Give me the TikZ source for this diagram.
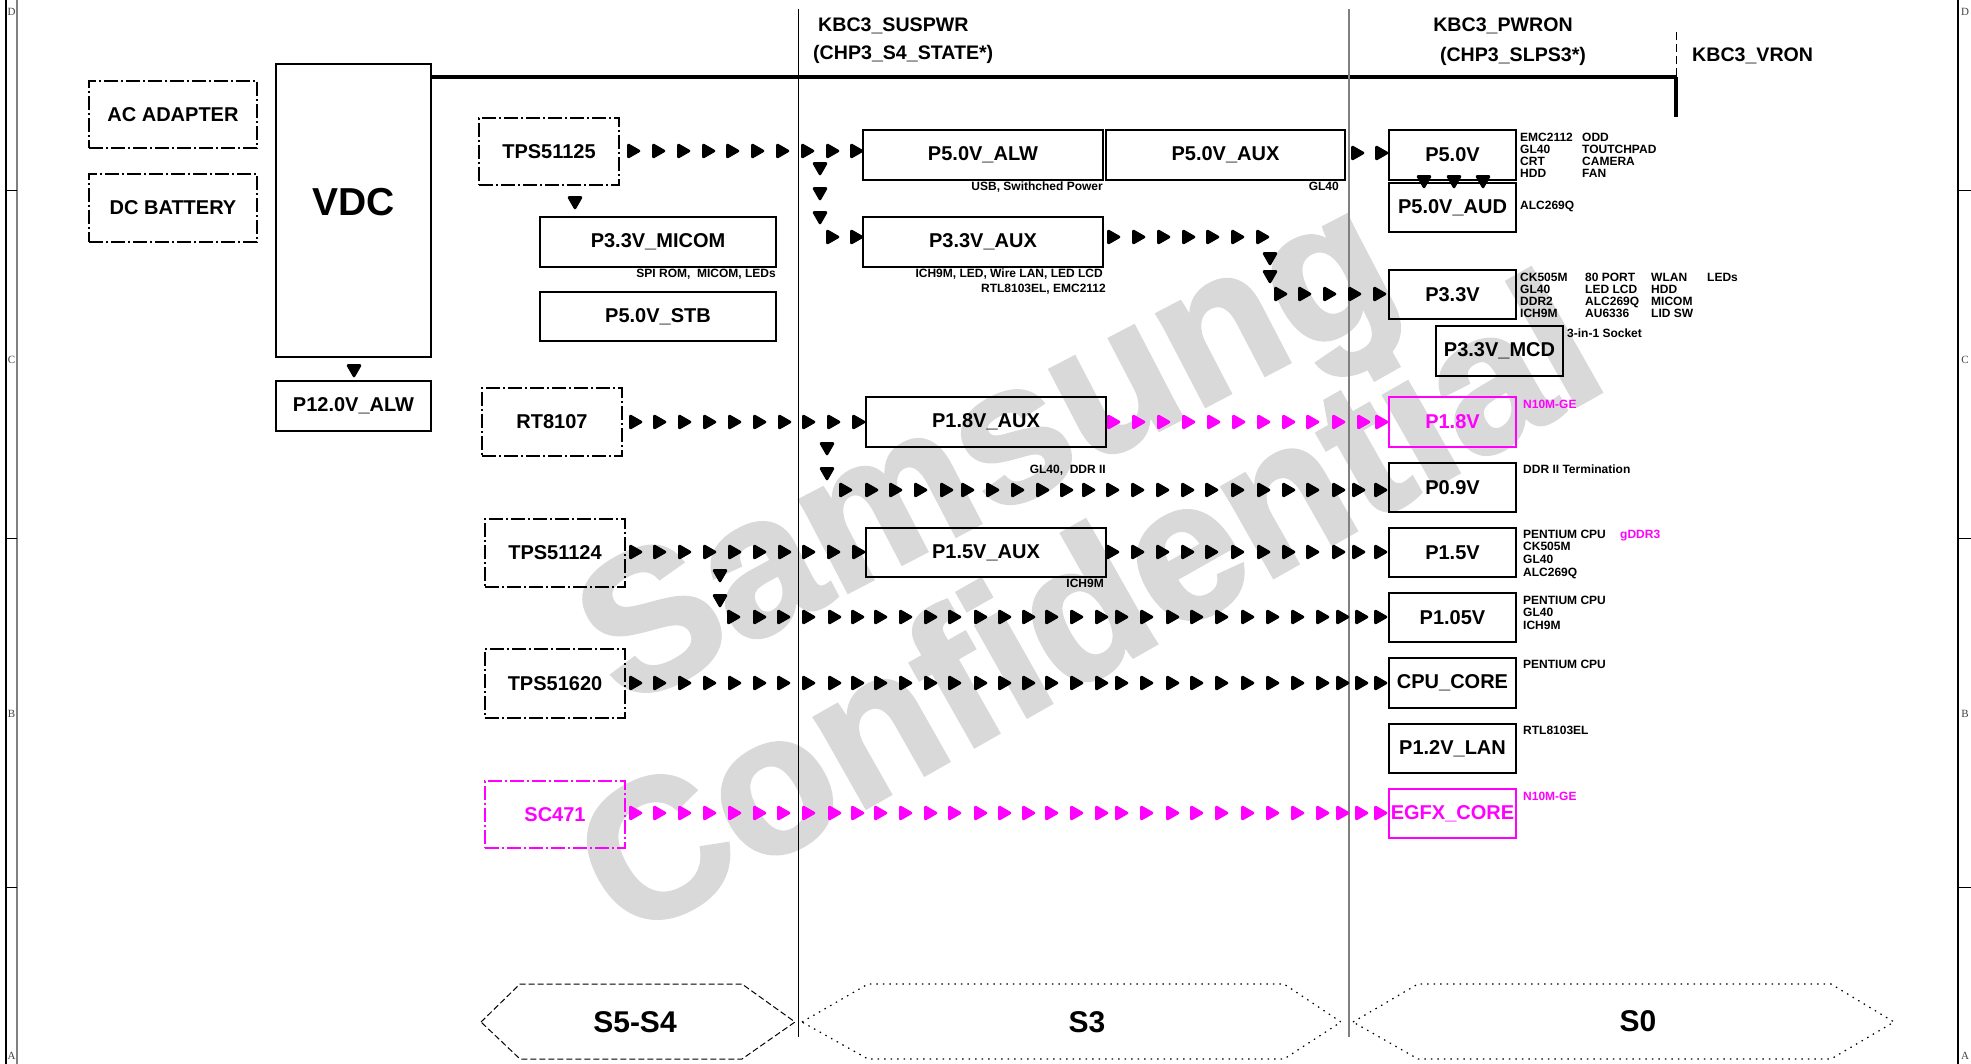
\documentclass[tikz,border=0pt]{standalone}
\usepackage{fontspec}
\setmainfont{Liberation Sans}
\newfontfamily\bfont{Liberation Serif}
\newfontfamily\wmfont{Liberation Sans}[FakeBold=2]
\definecolor{wm}{RGB}{217,217,217}
\definecolor{mag}{RGB}{255,0,255}
\definecolor{gl}{RGB}{128,128,128}
\tikzset{
  pbox/.style={draw, line width=1.3pt, inner sep=0pt, font=\fontsize{20}{22}\selectfont\bfseries},
  dbox/.style={pbox, line width=1.1pt, dash pattern=on 14pt off 3pt on 2pt off 3pt},
  note/.style={inner sep=0pt, font=\fontsize{12}{13}\selectfont\bfseries},
  hdr/.style={inner sep=0pt, font=\fontsize{19.6}{21}\selectfont\bfseries},
  stlbl/.style={inner sep=0pt, font=\fontsize{30}{32}\selectfont\bfseries},
  arr/.style={line width=2.6pt, line join=round, fill=white},
  brd/.style={inner sep=0pt, font=\bfont\fontsize{11}{11}\selectfont, text=black!75},
  wmark/.style={anchor=base, inner sep=0pt, text=wm, font=\wmfont\fontsize{196}{196}\selectfont\bfseries},
}
\newcommand\rrow[3][black]{\foreach \xx in {#2}{\draw[arr,#1] (\xx,#3) ++(-4.5,-6) -- ++(10.5,6) -- ++(-10.5,6) -- cycle;}}
\newcommand\drow[3][black]{\foreach \yy in {#3}{\draw[arr,#1] (#2,\yy) ++(-6,-4.5) -- ++(6,10.5) -- ++(6,-10.5) -- cycle;}}
\begin{document}
\begin{tikzpicture}[x=1pt,y=-1pt]
\useasboundingbox (0,0) rectangle (1971,1064);
% watermark
\node[wmark, rotate=27.5] (wm1) at (1015,505) {Samsung};
\node[wmark, rotate=29.5] (wm2) at (1120,664) {Confidential};
% frame
\draw[line width=2pt] (6,0) -- (6,1064);
\draw[gl, line width=1.5pt] (17,0) -- (17,1064);
\draw[line width=1.5pt] (1958,0) -- (1958,1064);
\foreach \yy in {191,538,887}{
  \draw[line width=1pt] (6,\yy) -- (17,\yy);
  \draw[line width=1pt] (1958,\yy) -- (1971,\yy);
}
\foreach \l/\yy [count=\i] in {D/12,C/360,B/714,A/1056}{
  \node[brd] (bl\i) at (11.5,\yy) {\l};
  \node[brd] (br\i) at (1965,\yy) {\l};
}
% boxes
\node[dbox, minimum width=168pt, minimum height=67pt] (ac) at (173,114.5) {AC ADAPTER};
\node[dbox, minimum width=168pt, minimum height=68pt] (dc) at (173,208) {DC BATTERY};
\node[pbox, minimum width=155pt, minimum height=293pt] (vdc) at (353.5,210.5) {};
\node[inner sep=0pt, font=\fontsize{39}{40}\selectfont\bfseries] (vdct) at (353.5,202) {VDC};
\node[pbox, minimum width=155pt, minimum height=50pt] (p12) at (353.5,406) {P12.0V\_ALW};
\node[dbox, minimum width=140pt, minimum height=67pt] (t25) at (549,151.5) {TPS51125};
\node[pbox, minimum width=236pt, minimum height=50pt] (micom) at (658,242) {P3.3V\_MICOM};
\node[pbox, minimum width=236pt, minimum height=49pt] (stb) at (658,316.5) {P5.0V\_STB};
\node[pbox, minimum width=240pt, minimum height=50pt] (p5alw) at (983,155) {P5.0V\_ALW};
\node[pbox, minimum width=239pt, minimum height=50pt] (p5aux) at (1225.5,155) {P5.0V\_AUX};
\node[pbox, minimum width=240pt, minimum height=50pt] (p33aux) at (983,242) {P3.3V\_AUX};
\node[pbox, minimum width=127pt, minimum height=50pt] (p5v) at (1452.5,155) {P5.0V};
\node[pbox, minimum width=127pt, minimum height=49pt] (p5aud) at (1452.5,207.5) {P5.0V\_AUD};
\node[pbox, minimum width=127pt, minimum height=49pt] (p33v) at (1452.5,294.5) {P3.3V};
\node[pbox, minimum width=127pt, minimum height=50pt] (mcd) at (1499.5,351) {P3.3V\_MCD};
\node[dbox, minimum width=140pt, minimum height=68pt] (rt) at (552,422) {RT8107};
\node[pbox, minimum width=240pt, minimum height=50pt] (p18aux) at (986,422) {P1.8V\_AUX};
\node[pbox, mag, minimum width=127pt, minimum height=50pt] (p18) at (1452.5,422) {P1.8V};
\node[pbox, minimum width=127pt, minimum height=49pt] (p09) at (1452.5,487.5) {P0.9V};
\node[dbox, minimum width=140pt, minimum height=68pt] (t24) at (555,553) {TPS51124};
\node[pbox, minimum width=240pt, minimum height=49pt] (p15aux) at (986,552.5) {P1.5V\_AUX};
\node[pbox, minimum width=127pt, minimum height=49pt] (p15) at (1452.5,552.5) {P1.5V};
\node[pbox, minimum width=127pt, minimum height=49pt] (p105) at (1452.5,617.5) {P1.05V};
\node[dbox, minimum width=140pt, minimum height=69pt] (t620) at (555,683.5) {TPS51620};
\node[pbox, minimum width=127pt, minimum height=50pt] (core) at (1452.5,683) {CPU\_CORE};
\node[pbox, minimum width=127pt, minimum height=49pt] (lan) at (1452.5,748.5) {P1.2V\_LAN};
\node[dbox, mag, minimum width=140pt, minimum height=67pt] (sc) at (555,814.5) {SC471};
\node[pbox, mag, minimum width=127pt, minimum height=49pt] (egfx) at (1452.5,813.5) {EGFX\_CORE};
% rails and state lines
\coordinate (busL) at (vdc.east |- 0,77);
\coordinate (busR) at (1677,77);
\draw[line width=4pt] (busL) -- (busR);
\coordinate (s3t) at (798,9); \coordinate (s3b) at (798,1037);
\draw[line width=1pt] (s3t) -- (s3b);
\coordinate (s0t) at (1349,9); \coordinate (s0b) at (1349,1037);
\draw[gl, line width=2pt] (s0t) -- (s0b);
\coordinate (vrt) at (1676,32); \coordinate (vrm) at (1676,77); \coordinate (vrb) at (1676,117);
\draw[line width=1pt, dash pattern=on 8pt off 4pt] (vrt) -- (vrm);
\draw[line width=3.5pt] (vrm) -- (vrb);
% header labels
\node[hdr, anchor=base west] (sus) at (818,31.8) {KBC3\_SUSPWR};
\node[hdr, anchor=base west] (s4) at (813,59.8) {(CHP3\_S4\_STATE*)};
\node[hdr, anchor=base] (pwron) at (1503,31.8) {KBC3\_PWRON};
\node[hdr, anchor=base] (slps) at (1513,61.8) {(CHP3\_SLPS3*)};
\node[hdr, anchor=base west] (vron) at (1692,61.8) {KBC3\_VRON};
% arrow chains
\drow{354}{370}
\drow{575}{202}
\rrow{633,658,683,708,732,757,782,807,832,856}{151}
\drow{820}{168,193,217}
\rrow{832,856}{237}
\rrow{1113,1138,1163,1188,1212,1237,1262}{237}
\drow{1270}{258,276}
\rrow{1280,1304,1329,1354,1379}{294}
\rrow{1357,1381}{153}
\drow{1424}{181}
\drow{1454}{181}
\drow{1483}{181}
\rrow{635,659,684,709,734,759,784,808,833,858}{422}
\rrow[mag]{1113,1138,1163,1188,1213,1238,1263,1288,1312,1338,1363,1381}{422}
\drow{827}{448,473}
\rrow{845,871,895,920,946,967,992,1017,1042,1066,1088,1112,1137,1162,1187,1211,1237,1263,1288,1312,1338,1358,1380}{490}
\rrow{635,659,684,709,734,759,784,808,833,858}{552}
\rrow{1112,1137,1162,1187,1211,1237,1263,1288,1312,1338,1358,1380}{552}
\drow{720}{575,600}
\rrow{733,759,783,808,834,857,880,905,930,954,980,1004,1028,1051,1076,1101,1121,1146,1172,1196,1221,1247,1272,1297,1322,1342,1361,1380}{617}
\rrow{635,659,684,709,734,759,783,808,834,857,880,905,930,954,980,1004,1028,1051,1076,1101,1121,1146,1172,1196,1221,1247,1272,1297,1322,1342,1361,1380}{683}
\rrow[mag]{635,659,684,709,734,759,783,808,834,857,880,905,930,954,980,1004,1028,1051,1076,1101,1121,1146,1172,1196,1221,1247,1272,1297,1322,1342,1361,1380}{813}
% left-side notes
\node[note, anchor=base east] (nmicom) at (776,277.3) {SPI ROM,~~MICOM, LEDs};
\node[note, anchor=base east] (nalw) at (1103,190.3) {USB, Swithched Power};
\node[note, anchor=base east] (naux) at (1339,190.3) {GL40};
\node[note, anchor=base east] (n33a) at (1103,277.3) {ICH9M, LED, Wire LAN, LED LCD};
\node[note, anchor=base east] (n33b) at (1106,292.3) {RTL8103EL, EMC2112};
\node[note, anchor=base east] (n18) at (1106,473.3) {GL40,~~DDR II};
\node[note, anchor=base east] (n15) at (1104,587.3) {ICH9M};
% right-side notes
\foreach \t [count=\i] in {EMC2112,GL40,CRT,HDD}
  \node[note, anchor=base west] (n5a\i) at (1520,129.3+12*\i) {\t};
\foreach \t [count=\i] in {ODD,TOUTCHPAD,CAMERA,FAN}
  \node[note, anchor=base west] (n5b\i) at (1582,129.3+12*\i) {\t};
\node[note, anchor=base west] (naud) at (1520,209.3) {ALC269Q};
\foreach \t [count=\i] in {CK505M,GL40,DDR2,ICH9M}
  \node[note, anchor=base west] (n3a\i) at (1520,269.3+12*\i) {\t};
\foreach \t [count=\i] in {80 PORT,LED LCD,ALC269Q,AU6336}
  \node[note, anchor=base west] (n3b\i) at (1585,269.3+12*\i) {\t};
\foreach \t [count=\i] in {WLAN,HDD,MICOM,LID SW}
  \node[note, anchor=base west] (n3c\i) at (1651,269.3+12*\i) {\t};
\node[note, anchor=base west] (n3d) at (1707,281.3) {LEDs};
\node[note, anchor=base west] (nmcd) at (1567,337.3) {3-in-1 Socket};
\node[note, anchor=base west, mag] (n18r) at (1523,408.3) {N10M-GE};
\node[note, anchor=base west] (n09) at (1523,473.3) {DDR II Termination};
\foreach \t [count=\i] in {PENTIUM CPU,CK505M,GL40,ALC269Q}
  \node[note, anchor=base west] (n15r\i) at (1523,525.7+12.6*\i) {\t};
\node[note, anchor=base west, mag] (ngddr) at (1620,538.3) {gDDR3};
\foreach \t [count=\i] in {PENTIUM CPU,GL40,ICH9M}
  \node[note, anchor=base west] (n105\i) at (1523,591.7+12.6*\i) {\t};
\node[note, anchor=base west] (ncore) at (1523,668.3) {PENTIUM CPU};
\node[note, anchor=base west] (nlan) at (1523,734.3) {RTL8103EL};
\node[note, anchor=base west, mag] (negfx) at (1523,800.3) {N10M-GE};
% state hexagons
\draw[line width=1pt, dash pattern=on 6pt off 3pt] (481,1022) -- (520,984) -- (742,984) -- (795,1022) -- (742,1059) -- (520,1059) -- cycle;
\draw[line width=1.2pt, dash pattern=on 1.5pt off 5pt] (802,1022) -- (868,984) -- (1284,984) -- (1341,1022) -- (1284,1059) -- (868,1059) -- cycle;
\draw[line width=1.2pt, dash pattern=on 1.5pt off 5pt] (1353,1022) -- (1418,984) -- (1831,984) -- (1894,1022) -- (1831,1059) -- (1418,1059) -- cycle;
\node[stlbl] (st54) at (635,1022) {S5-S4};
\node[stlbl] (st3) at (1087,1022) {S3};
\node[stlbl] (st0) at (1638,1021) {S0};
\end{tikzpicture}
\end{document}
